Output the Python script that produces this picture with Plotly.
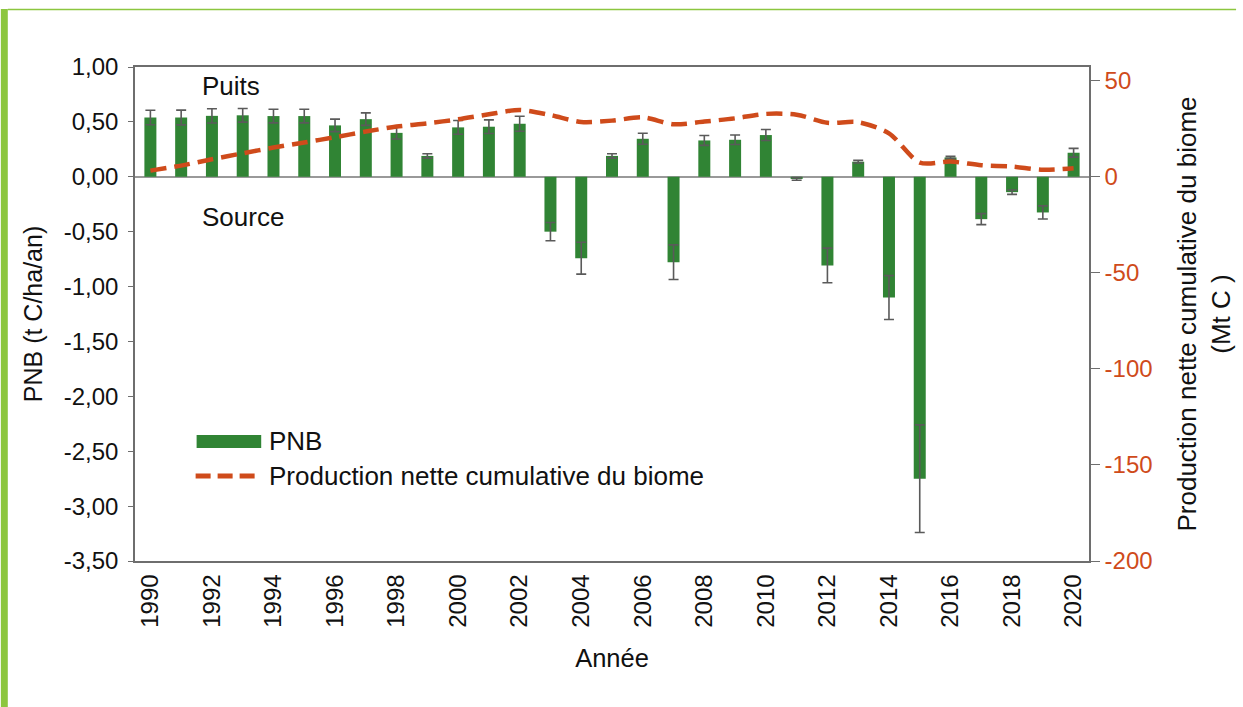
import plotly.graph_objects as go

years = list(range(1990, 2021))
pnb = [0.54, 0.54, 0.555, 0.56, 0.553, 0.553, 0.468, 0.525, 0.40, 0.19,
       0.45, 0.456, 0.483, -0.50, -0.742, 0.19, 0.346, -0.778, 0.331, 0.337,
       0.38, -0.02, -0.808, 0.137, -1.10, -2.75, 0.176, -0.386, -0.14, -0.325,
       0.219]
pnb_err = [0.066, 0.067, 0.065, 0.062, 0.062, 0.062, 0.057, 0.057, 0.056, 0.02,
           0.062, 0.062, 0.068, 0.083, 0.145, 0.02, 0.05, 0.158, 0.045, 0.043,
           0.05, 0.012, 0.158, 0.012, 0.2, 0.49, 0.01, 0.05, 0.02, 0.06,
           0.04]
cumul = [3.1, 5.7, 9.0, 12.1, 15.1, 17.7, 20.5, 23.4, 26.0, 27.7,
         29.8, 32.4, 34.6, 32.0, 28.4, 29.1, 30.8, 27.2, 28.6, 30.3,
         32.6, 32.2, 28.0, 28.3, 22.5, 7.3, 7.8, 5.9, 5.2, 3.5,
         4.3]

left_ticks = [1.0, 0.5, 0.0, -0.5, -1.0, -1.5, -2.0, -2.5, -3.0, -3.5]
left_labels = ["1,00", "0,50", "0,00", "-0,50", "-1,00", "-1,50", "-2,00", "-2,50", "-3,00", "-3,50"]
right_ticks = [50, 0, -50, -100, -150, -200]
right_labels = ["50", "0", "-50", "-100", "-150", "-200"]
x_ticks = list(range(1990, 2021, 2))
x_labels = [str(y) for y in x_ticks]
boundaries = [y + 0.5 for y in range(1989, 2021)]

GREEN = "#308434"
ORANGE = "#cf4b1b"
GREY = "#6e6e6e"
FONT = "Liberation Sans, Arial, sans-serif"
TICK_FS = 24
TXT_FS = 26

W, H = 1243, 707
L, R, T, B = 135, 148, 67, 146
pw, ph = W - L - R, H - T - B


def px(x):
    return (x - L) / pw


def py(y):
    return (H - B - y) / ph


fig = go.Figure()
fig.add_trace(go.Bar(
    x=years, y=pnb, width=0.39, marker=dict(color=GREEN, line=dict(width=0)),
    error_y=dict(type="data", array=pnb_err, visible=True, color="#5a5a5a",
                 thickness=1.6, width=5),
    name="PNB", showlegend=False))
fig.add_trace(go.Scatter(
    x=years, y=cumul, yaxis="y2", mode="lines",
    line=dict(color=ORANGE, width=4.5, dash="16px,8px", shape="spline", smoothing=0.8),
    name="Production nette cumulative du biome", showlegend=False))

fig.update_layout(
    width=W, height=H,
    margin=dict(l=L, r=R, t=T, b=B, pad=0),
    paper_bgcolor="white", plot_bgcolor="white",
    font=dict(family=FONT, size=TICK_FS, color="#111"),
    xaxis=dict(range=[1989.5, 2020.5], tickvals=x_ticks, ticktext=x_labels,
               tickangle=-90, showline=True, linecolor=GREY, linewidth=1.5,
               mirror=True, ticks="", showgrid=False, zeroline=False,
               ticklabelstandoff=2,
               title=dict(text="Année", standoff=22, font=dict(size=25.5)),
               tickfont=dict(size=TICK_FS)),
    xaxis2=dict(range=[1989.5, 2020.5], overlaying="x", anchor="free",
                position=py(177), tickvals=boundaries, ticks="outside",
                ticklen=6, tickwidth=1.3, tickcolor=GREY, showticklabels=False,
                showline=False, showgrid=False, zeroline=False),
    yaxis=dict(range=[-3.5, 1.0], tickvals=left_ticks, ticktext=left_labels,
               showline=True, linecolor=GREY, linewidth=1.5, ticks="outside",
               ticklen=5, tickcolor=GREY, showgrid=False, zeroline=True,
               zerolinecolor="#999", zerolinewidth=1.5, ticklabelstandoff=5,
               title=dict(text="PNB (t C/ha/an)", standoff=14, font=dict(size=25))),
    yaxis2=dict(range=[-200, 57], overlaying="y", side="right", anchor="x",
                tickvals=right_ticks, ticktext=right_labels,
                tickfont=dict(color=ORANGE, size=TICK_FS),
                showline=True, linecolor=GREY, linewidth=1.5, ticks="outside",
                ticklen=9, tickcolor=GREY, showgrid=False, zeroline=False,
                ticklabelstandoff=0,
                title=dict(text="Production nette cumulative du biome<br>(Mt C )",
                           standoff=26, font=dict(size=TXT_FS))),
    showlegend=False,
)

shapes = [
    # decorative green frame
    dict(type="rect", xref="paper", yref="paper", x0=px(0), x1=px(7), y0=py(707), y1=py(9),
         fillcolor="#8cc63f", line=dict(width=0), layer="above"),
    dict(type="line", xref="paper", yref="paper", x0=px(7), x1=px(1243), y0=py(9.5), y1=py(9.5),
         line=dict(color="#8cc63f", width=1.5)),
    # legend swatches
    dict(type="rect", xref="paper", yref="paper", x0=px(197), x1=px(262), y0=py(448), y1=py(435),
         fillcolor=GREEN, line=dict(width=0)),
    dict(type="line", xref="paper", yref="paper", x0=px(196), x1=px(261), y0=py(476), y1=py(476),
         line=dict(color=ORANGE, width=5, dash="15px,7px")),
]
annotations = [
    dict(text="Puits", xref="paper", yref="paper", x=px(200), y=py(86), xanchor="left",
         yanchor="middle", showarrow=False, font=dict(size=TXT_FS)),
    dict(text="Source", xref="paper", yref="paper", x=px(200), y=py(217), xanchor="left",
         yanchor="middle", showarrow=False, font=dict(size=TXT_FS)),
    dict(text="PNB", xref="paper", yref="paper", x=px(268), y=py(441), xanchor="left",
         yanchor="middle", showarrow=False, font=dict(size=TXT_FS)),
    dict(text="Production nette cumulative du biome", xref="paper", yref="paper", x=px(268),
         y=py(476), xanchor="left", yanchor="middle", showarrow=False, font=dict(size=TXT_FS)),
]
fig.update_layout(shapes=shapes, annotations=annotations)

fig.write_html("out.html", config={"displayModeBar": False},
               post_script="document.body.style.margin='0px';")
